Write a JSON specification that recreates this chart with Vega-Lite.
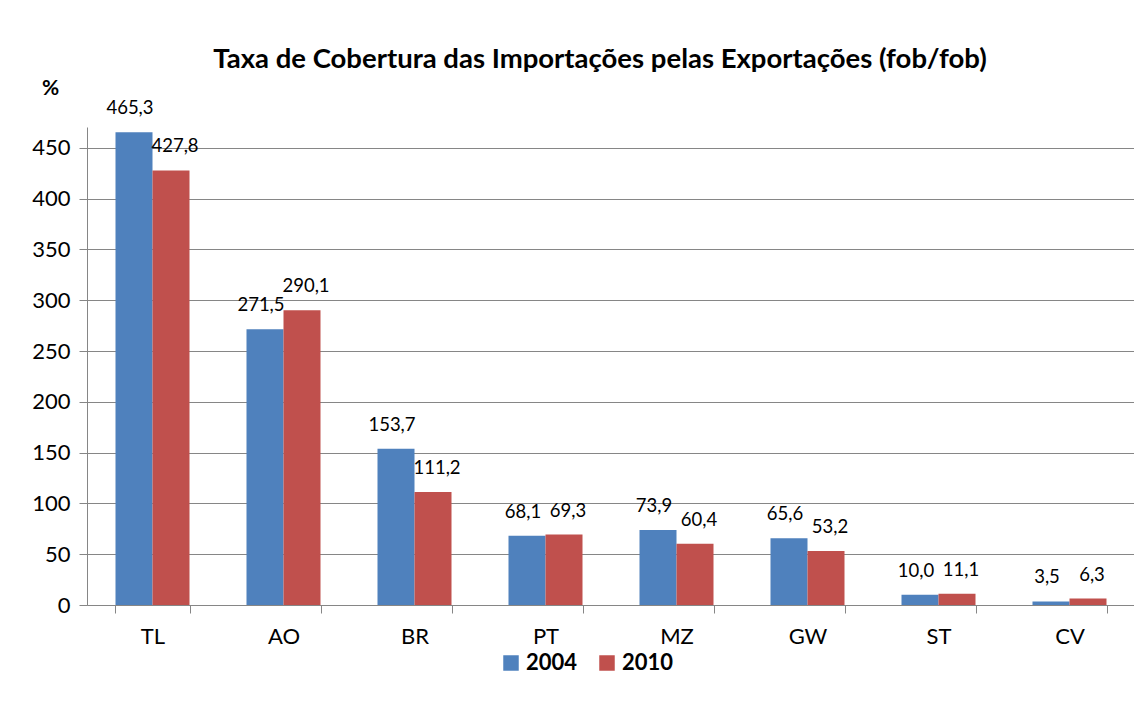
{
  "$schema": "https://vega.github.io/schema/vega-lite/v6.json",
  "autosize": {"type": "none"},
  "width": 1048,
  "height": 478,
  "padding": {"left": 87, "top": 127, "right": 0, "bottom": 108},
  "background": "white",
  "config": {
    "font": "Lato",
    "locale": {"number": {"decimal": ",", "thousands": ".", "grouping": [3], "currency": ["", " €"]}},
    "view": {"stroke": null}
  },
  "title": {
    "text": "Taxa de Cobertura das Importações pelas Exportações (fob/fob)",
    "font": "Lato",
    "fontSize": 27.5,
    "fontWeight": "bold",
    "color": "#000000",
    "anchor": "middle",
    "frame": "group",
    "dx": -11,
    "offset": 4
  },
  "data": {
    "values": [
      {"pais": "TL", "ano": "2004", "valor": 465.3},
      {"pais": "TL", "ano": "2010", "valor": 427.8},
      {"pais": "AO", "ano": "2004", "valor": 271.5},
      {"pais": "AO", "ano": "2010", "valor": 290.1},
      {"pais": "BR", "ano": "2004", "valor": 153.7},
      {"pais": "BR", "ano": "2010", "valor": 111.2},
      {"pais": "PT", "ano": "2004", "valor": 68.1},
      {"pais": "PT", "ano": "2010", "valor": 69.3},
      {"pais": "MZ", "ano": "2004", "valor": 73.9},
      {"pais": "MZ", "ano": "2010", "valor": 60.4},
      {"pais": "GW", "ano": "2004", "valor": 65.6},
      {"pais": "GW", "ano": "2010", "valor": 53.2},
      {"pais": "ST", "ano": "2004", "valor": 10.0},
      {"pais": "ST", "ano": "2010", "valor": 11.1},
      {"pais": "CV", "ano": "2004", "valor": 3.5},
      {"pais": "CV", "ano": "2010", "valor": 6.3}
    ]
  },
  "encoding": {
    "x": {
      "field": "pais",
      "type": "nominal",
      "sort": ["TL", "AO", "BR", "PT", "MZ", "GW", "ST", "CV"],
      "scale": {"paddingInner": 0.435, "paddingOuter": 0.2175},
      "axis": {
        "title": null,
        "labelAngle": 0,
        "labelFontSize": 22,
        "labelColor": "#000000",
        "labelPadding": 13,
        "tickBand": "extent",
        "tickSize": 8,
        "tickColor": "#868686",
        "domainColor": "#868686",
        "grid": false
      }
    },
    "xOffset": {"field": "ano", "type": "nominal", "scale": {"paddingInner": 0, "paddingOuter": 0}},
    "y": {
      "field": "valor",
      "type": "quantitative",
      "scale": {"domain": [0, 470.5], "nice": false},
      "axis": {
        "values": [0, 50, 100, 150, 200, 250, 300, 350, 400, 450],
        "title": "%",
        "titleAngle": 0,
        "titleFontSize": 21,
        "titleFontWeight": "bold",
        "titleColor": "#000000",
        "titleAlign": "center",
        "titleBaseline": "middle",
        "titleX": -37,
        "titleY": -39,
        "labelFontSize": 22,
        "labelColor": "#000000",
        "labelPadding": 9,
        "tickSize": 8,
        "tickColor": "#868686",
        "domainColor": "#868686",
        "gridColor": "#868686",
        "gridOpacity": 1
      }
    }
  },
  "layer": [
    {
      "mark": {"type": "bar"},
      "encoding": {
        "color": {
          "field": "ano",
          "type": "nominal",
          "scale": {"domain": ["2004", "2010"], "range": ["#4F81BD", "#C0504D"]},
          "legend": {
            "title": null,
            "orient": "none",
            "direction": "horizontal",
            "legendX": 413,
            "legendY": 525,
            "symbolType": "square",
            "symbolSize": 240,
            "symbolStrokeWidth": 0,
            "labelFontSize": 22,
            "labelFontWeight": "bold",
            "labelColor": "#000000",
            "columnPadding": 18,
            "labelOffset": 4
          }
        }
      }
    },
    {
      "transform": [{"filter": "datum.ano === '2004'"}],
      "mark": {"type": "text", "fontSize": 18.5, "dy": -24, "dx": -4, "color": "#000000"},
      "encoding": {
        "text": {"field": "valor", "type": "quantitative", "format": ".1f"}
      }
    },
    {
      "transform": [{"filter": "datum.ano === '2010'"}],
      "mark": {"type": "text", "fontSize": 18.5, "dy": -24, "dx": 4, "color": "#000000"},
      "encoding": {
        "text": {"field": "valor", "type": "quantitative", "format": ".1f"}
      }
    }
  ]
}
